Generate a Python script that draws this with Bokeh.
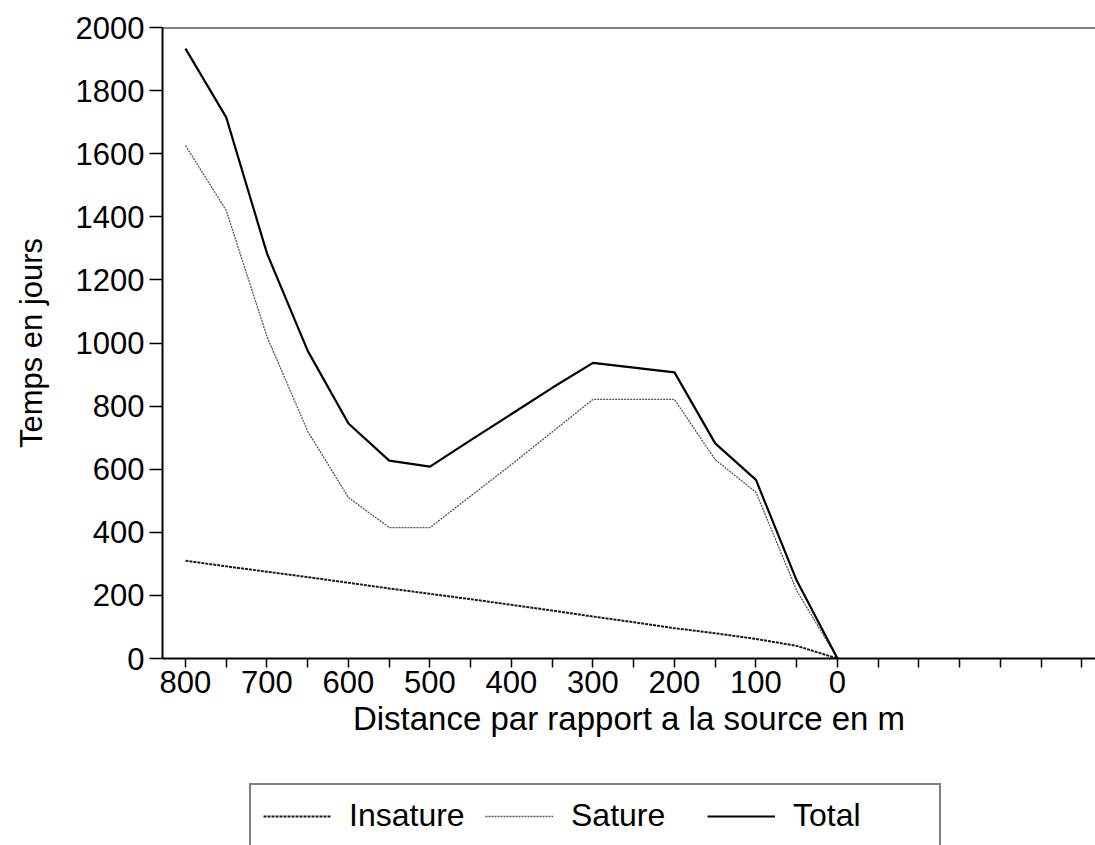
from bokeh.plotting import figure
from bokeh.layouts import column
from bokeh.models import (Range1d, FixedTicker, CustomJSTickFormatter, Span,
                          Legend, LegendItem, ColumnDataSource)
from bokeh.embed import file_html
from bokeh.resources import INLINE

# ---- data ----
distance = [800, 750, 700, 650, 600, 550, 500, 450, 400, 350, 300, 250, 200, 150, 100, 50, 0]
insature = [310, 292, 275, 258, 240, 222, 205, 188, 170, 152, 133, 115, 96, 80, 62, 40, 0]
sature = [1626, 1420, 1020, 720, 510, 415, 415, 515, 615, 718, 821, 821, 821, 630, 527, 215, 0]
total = [1933, 1715, 1284, 975, 745, 627, 608, 692, 775, 858, 937, 922, 907, 682, 566, 247, 0]

x_ticks = list(range(-300, 801, 50))
y_ticks = list(range(0, 2001, 200))
series_names = ["Insature", "Sature", "Total"]

FONT = "Liberation Sans"

INS_STYLE = dict(line_color="#1a1a1a", line_width=2, line_dash="3 1")
SAT_STYLE = dict(line_color="#555555", line_width=1.3, line_dash="2 1")
TOT_STYLE = dict(line_color="black", line_width=2.2)

src = ColumnDataSource(dict(d=distance, ins=insature, sat=sature, tot=total))

p = figure(frame_width=933, frame_height=631,
           min_border_left=162, min_border_right=0, min_border_top=27,
           min_border_bottom=105,
           x_range=Range1d(828.2, -316.6), y_range=Range1d(0, 2000),
           output_backend="svg", toolbar_location=None)

p.outline_line_color = None
p.grid.visible = False
p.background_fill_color = "white"
p.border_fill_color = "white"

# x axis
xa = p.xaxis[0]
xa.ticker = FixedTicker(ticks=x_ticks, minor_ticks=[])
xa.formatter = CustomJSTickFormatter(
    code="return (tick >= 0 && Math.abs(tick % 100) < 1e-6) ? tick.toFixed(0) : '';")
xa.axis_label = "Distance par rapport a la source en m"
xa.axis_label_text_font = FONT
xa.axis_label_text_font_size = "33px"
xa.axis_label_text_font_style = "normal"
xa.axis_label_text_color = "black"
xa.axis_label_standoff = 4
xa.major_label_text_font = FONT
xa.major_label_text_font_size = "31px"
xa.major_label_text_color = "black"
xa.major_label_standoff = 3
xa.major_tick_out = 9
xa.major_tick_in = 0
xa.major_tick_line_width = 1.5
xa.axis_line_width = 2
xa.axis_line_color = "black"
xa.major_tick_line_color = "black"

# y axis
ya = p.yaxis[0]
ya.ticker = FixedTicker(ticks=y_ticks, minor_ticks=[])
ya.axis_label = "Temps en jours"
ya.axis_label_text_font = FONT
ya.axis_label_text_font_size = "31px"
ya.axis_label_text_font_style = "normal"
ya.axis_label_text_color = "black"
ya.axis_label_standoff = 24
ya.major_label_text_font = FONT
ya.major_label_text_font_size = "31px"
ya.major_label_text_color = "black"
ya.major_label_standoff = 5
ya.major_tick_out = 13
ya.major_tick_in = 0
ya.major_tick_line_width = 1.5
ya.axis_line_width = 2
ya.axis_line_color = "black"
ya.major_tick_line_color = "black"

# top frame line
p.add_layout(Span(location=2000, dimension="width", line_color="black", line_width=2))

p.line("d", "ins", source=src, **INS_STYLE)
p.line("d", "sat", source=src, **SAT_STYLE)
p.line("d", "tot", source=src, **TOT_STYLE)

# ---- legend strip under the chart ----
lp = figure(width=1095, height=82, min_border=0,
            x_range=Range1d(0, 1), y_range=Range1d(0, 1),
            x_axis_type=None, y_axis_type=None,
            output_backend="svg", toolbar_location=None)
lp.outline_line_color = None
lp.grid.visible = False
lp.background_fill_color = "white"
lp.border_fill_color = "white"

# off-range sample lines, only used to give the legend its glyph styles
proxy = ColumnDataSource(dict(x=[-5, -4], y=[-5, -4]))
l_ins = lp.line("x", "y", source=proxy, **INS_STYLE)
l_sat = lp.line("x", "y", source=proxy, **SAT_STYLE)
l_tot = lp.line("x", "y", source=proxy, **TOT_STYLE)

legend = Legend(items=[LegendItem(label=series_names[0], renderers=[l_ins]),
                       LegendItem(label=series_names[1], renderers=[l_sat]),
                       LegendItem(label=series_names[2], renderers=[l_tot])],
                orientation="horizontal", location=(87, -3))
legend.label_text_font = FONT
legend.label_text_font_size = "32px"
legend.label_text_color = "black"
legend.label_height = 36
legend.glyph_width = 68
legend.label_standoff = 18
legend.label_width = 134
legend.spacing = 2
legend.padding = 12
legend.margin = 0
legend.border_line_color = "black"
legend.border_line_width = 2
legend.background_fill_alpha = 1
legend.background_fill_color = "white"
lp.add_layout(legend, "center")

layout = column(p, lp, spacing=0)
open("out.html", "w").write(file_html(layout, INLINE))
